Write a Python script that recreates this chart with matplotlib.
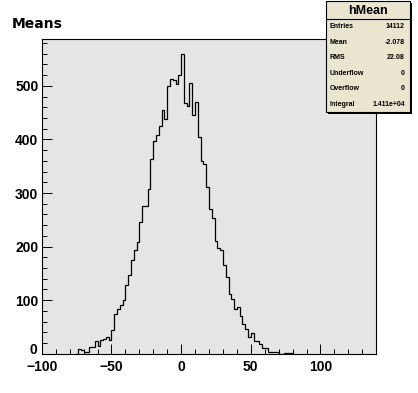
import numpy as np
import matplotlib
matplotlib.use('Agg')
from matplotlib import pyplot as plt
from matplotlib.ticker import MultipleLocator, FuncFormatter
from matplotlib.patches import Rectangle
from matplotlib.lines import Line2D

# histogram contents (bin width 2, first bin starts at -76)
hist_name = 'hMean'
title = 'Means'
first_edge = -76
bin_width = 2
counts = [0, 8, 6, 4, 4, 12, 12, 23, 15, 25, 28, 31, 26,
          45, 74, 83, 91, 100, 128, 147, 175, 193, 209,
          245, 276, 276, 307, 363, 397, 409, 426, 455, 438,
          499, 512, 511, 503, 520, 559, 468, 462, 505, 445,
          470, 404, 359, 354, 311, 270, 253, 210, 197, 193,
          165, 144, 112, 102, 84, 88, 70, 55, 46, 32, 38,
          23, 23, 19, 10, 10, 4, 4, 4, 4, 0, 0, 1, 2, 1, 0]
x_range = (-100, 140)
stat_names = ['Entries', 'Mean', 'RMS', 'Underflow', 'Overflow', 'Integral']
stat_values = ['14112', '-2.078', '22.08', '0', '0', '1.411e+04']

W, H = 418, 393


def px(x, y):
    """pixel position (from top left) -> figure fraction"""
    return x / W, 1 - y / H


def main():
    plt.rcParams['font.family'] = ['Liberation Sans', 'DejaVu Sans']
    plt.rcParams['font.weight'] = 'bold'
    plt.rcParams['ytick.alignment'] = 'center_baseline'

    fig = plt.figure(figsize=(W / 100, H / 100), dpi=100)
    fig.patch.set_facecolor('white')
    ax = fig.add_axes([0.1, 0.1, 0.8, 0.8])
    ax.set_facecolor('#e5e5e5')

    edges = first_edge + bin_width * np.arange(len(counts) + 1)
    ax.stairs(counts, edges, baseline=0, color='black', lw=0.9)

    ax.set_xlim(*x_range)
    ax.set_ylim(0, 1.05 * max(counts))
    ax.xaxis.set_major_locator(MultipleLocator(50))
    ax.xaxis.set_minor_locator(MultipleLocator(10))
    ax.yaxis.set_major_locator(MultipleLocator(100))
    ax.yaxis.set_minor_locator(MultipleLocator(20))
    # the y label "0" is drawn separately, a bit higher, to clear "-100"
    ax.yaxis.set_major_formatter(FuncFormatter(lambda v, p: '' if v == 0 else f'{v:g}'))
    ax.tick_params(which='both', direction='in', top=False, right=False,
                   width=0.7, color='black', labelsize=10)
    ax.tick_params(which='major', length=7.2)
    ax.tick_params(which='minor', length=3.6)
    ax.tick_params(axis='x', pad=4.6)
    ax.tick_params(axis='y', pad=2.5)
    for sp in ax.spines.values():
        sp.set_linewidth(0.8)
        sp.set_color('black')
    ax.annotate('0', xy=(0, 0), xycoords=('axes fraction', 'data'),
                xytext=(-3.2, 3.5), textcoords='offset points',
                ha='right', va='center_baseline', fontsize=10,
                fontweight='bold', annotation_clip=False)

    fig.text(*px(12, 28), title, fontsize=10, fontweight='bold',
             family='DejaVu Sans', va='baseline', ha='left')

    # stats box
    bx0, by0 = px(326, 112)
    bx1, by1 = px(410, 1)
    sx, sy = 2 / W, 2 / H
    fig.add_artist(Rectangle((bx0 + sx, by0 - sy), bx1 - bx0, by1 - by0,
                             transform=fig.transFigure, facecolor='black',
                             edgecolor='none'))
    fig.add_artist(Rectangle((bx0, by0), bx1 - bx0, by1 - by0,
                             transform=fig.transFigure, facecolor='#e9e5cf',
                             edgecolor='black', lw=0.8))
    sep_y = px(0, 19)[1]
    fig.add_artist(Line2D([bx0, bx1], [sep_y, sep_y], transform=fig.transFigure,
                          color='black', lw=0.8))
    fig.text(*px(368, 10.5), hist_name, fontsize=9, fontweight='bold',
             ha='center', va='center')
    row_h = (112 - 19) / len(stat_names)
    for i, (name, val) in enumerate(zip(stat_names, stat_values)):
        yc = 19 + row_h * (i + 0.5)
        fig.text(*px(330, yc), name, fontsize=5, fontweight='bold',
                 ha='left', va='center')
        fig.text(*px(405, yc), val, fontsize=5, fontweight='bold',
                 ha='right', va='center')

    fig.savefig('out.png', dpi=100)
    plt.close(fig)


if __name__ == '__main__':
    main()
